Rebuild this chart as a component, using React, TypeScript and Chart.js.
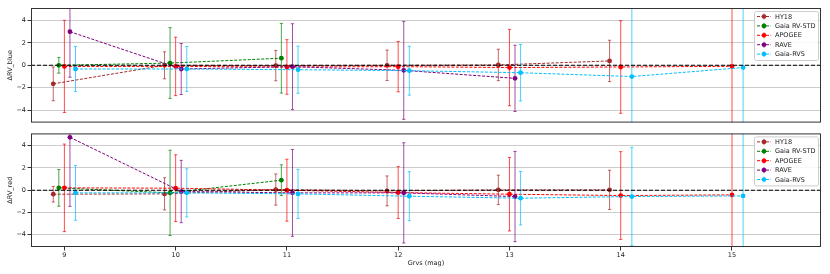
import { useEffect, useRef } from "react";
import { Chart, registerables } from "chart.js";
Chart.register(...registerables);

// ---- data ----
const bins = [9, 10, 11, 12, 13, 14, 15];
const xTicks = [9, 10, 11, 12, 13, 14, 15];
const yTicks = [-4, -2, 0, 2, 4];
const seriesNames = ["HY18", "Gaia RV-STD", "APOGEE", "RAVE", "Gaia-RVS"];
const seriesOffsets = [-0.1, -0.05, 0, 0.05, 0.1];
const seriesColors = ["#a52a2a", "#008000", "#ff0000", "#800080", "#00bfff"];

// ΔRV_blue
const hy18Blue = [-1.65, 0.0, -0.03, 0.0, 0.03, 0.39, null];
const hy18BlueErr = [1.5, 1.2, 1.35, 1.35, 1.4, 1.84, null];
const rvstdBlue = [0.0, 0.2, 0.63, null, null, null, null];
const rvstdBlueErr = [0.7, 3.15, 3.1, null, null, null, null];
const apogeeBlue = [-0.1, -0.1, -0.15, -0.12, -0.2, -0.15, -0.09];
const apogeeBlueErr = [4.1, 2.6, 2.43, 2.24, 3.4, 4.12, 9.0];
const raveBlue = [2.99, -0.33, -0.12, -0.45, -1.16, null, null];
const raveBlueErr = [4.05, 2.27, 3.82, 4.36, 2.95, null, null];
const rvsBlue = [-0.33, -0.33, -0.39, -0.48, -0.66, -1.0, -0.2];
const rvsBlueErr = [2.0, 2.0, 2.1, 2.18, 2.52, 7.0, 9.0];

// ΔRV_red
const hy18Red = [-0.36, -0.33, 0.06, -0.06, 0.03, 0.03, null];
const hy18RedErr = [0.7, 1.44, 1.4, 1.34, 1.32, 1.76, null];
const rvstdRed = [0.21, -0.24, 0.9, null, null, null, null];
const rvstdRedErr = [1.65, 3.83, 1.38, null, null, null, null];
const apogeeRed = [0.21, 0.18, 0.0, -0.21, -0.36, -0.48, -0.42];
const apogeeRedErr = [3.93, 3.0, 2.78, 2.33, 3.3, 3.94, 9.0];
const raveRed = [4.75, -0.12, -0.24, -0.24, -0.57, null, null];
const raveRedErr = [6.2, 2.8, 3.9, 4.5, 4.05, null, null];
const rvsRed = [-0.24, -0.24, -0.33, -0.54, -0.72, -0.57, -0.51];
const rvsRedErr = [2.46, 2.16, 2.2, 2.2, 2.4, 4.42, 9.0];

const blueValues = [hy18Blue, rvstdBlue, apogeeBlue, raveBlue, rvsBlue];
const blueErrors = [hy18BlueErr, rvstdBlueErr, apogeeBlueErr, raveBlueErr, rvsBlueErr];
const redValues = [hy18Red, rvstdRed, apogeeRed, raveRed, rvsRed];
const redErrors = [hy18RedErr, rvstdRedErr, apogeeRedErr, raveRedErr, rvsRedErr];

const FONT = "'DejaVu Sans', sans-serif";
const FS = 6.5;

function rgba(hex: string, a: number) {
  const n = parseInt(hex.slice(1), 16);
  return `rgba(${(n >> 16) & 255},${(n >> 8) & 255},${n & 255},${a})`;
}

const errorBarPlugin = {
  id: "errorBars",
  beforeDatasetDraw(chart: any, args: any) {
    const ds = chart.data.datasets[args.index];
    const meta = args.meta;
    const ys = chart.scales.y;
    const ca = chart.chartArea;
    const ctx = chart.ctx;
    ctx.save();
    ctx.beginPath();
    ctx.rect(ca.left, ca.top, ca.right - ca.left, ca.bottom - ca.top);
    ctx.clip();
    ctx.strokeStyle = rgba(ds.baseColor, 0.7);
    ctx.lineWidth = 1;
    ds.data.forEach((p: any, i: number) => {
      const el = meta.data[i];
      if (!el) return;
      const x = el.x;
      const y1 = ys.getPixelForValue(p.y + p.e);
      const y2 = ys.getPixelForValue(p.y - p.e);
      ctx.beginPath();
      ctx.moveTo(x, y1);
      ctx.lineTo(x, y2);
      ctx.moveTo(x - 1.6, y1);
      ctx.lineTo(x + 1.6, y1);
      ctx.moveTo(x - 1.6, y2);
      ctx.lineTo(x + 1.6, y2);
      ctx.stroke();
    });
    ctx.restore();
  },
  afterDatasetsDraw(chart: any) {
    const ctx = chart.ctx;
    const ca = chart.chartArea;
    const ys = chart.scales.y;
    // zero line
    const y0 = ys.getPixelForValue(0);
    ctx.save();
    ctx.strokeStyle = "#000";
    ctx.lineWidth = 1.1;
    ctx.setLineDash([4, 2]);
    ctx.beginPath();
    ctx.moveTo(ca.left, y0);
    ctx.lineTo(ca.right, y0);
    ctx.stroke();
    ctx.setLineDash([]);
    // frame
    ctx.strokeStyle = "#333";
    ctx.lineWidth = 1;
    ctx.strokeRect(ca.left + 0.5, ca.top + 0.5, ca.right - ca.left - 1, ca.bottom - ca.top - 1);
    // legend
    const bw = 64;
    const bh = 49;
    const bx = ca.right - 3 - bw;
    const by = ca.top + 3;
    ctx.fillStyle = "rgba(255,255,255,0.85)";
    ctx.strokeStyle = "#cccccc";
    ctx.lineWidth = 1;
    ctx.beginPath();
    (ctx as any).roundRect(bx + 0.5, by + 0.5, bw, bh, 2);
    ctx.fill();
    ctx.stroke();
    ctx.font = `${FS}px ${FONT}`;
    ctx.textBaseline = "middle";
    ctx.textAlign = "left";
    seriesNames.forEach((name, i) => {
      const cy = by + 5.5 + i * 9.4;
      const c = seriesColors[i];
      ctx.strokeStyle = c;
      ctx.lineWidth = 1;
      ctx.setLineDash([3, 1.5]);
      ctx.beginPath();
      ctx.moveTo(bx + 3, cy);
      ctx.lineTo(bx + 17, cy);
      ctx.stroke();
      ctx.setLineDash([]);
      ctx.strokeStyle = rgba(c, 0.7);
      ctx.beginPath();
      ctx.moveTo(bx + 10, cy - 3);
      ctx.lineTo(bx + 10, cy + 3);
      ctx.stroke();
      ctx.fillStyle = c;
      ctx.beginPath();
      ctx.arc(bx + 10, cy, 2.3, 0, Math.PI * 2);
      ctx.fill();
      ctx.fillStyle = "#222";
      ctx.fillText(name, bx + 21, cy + 0.5);
    });
    ctx.restore();
  },
};

function buildDatasets(values: (number | null)[][], errors: (number | null)[][]) {
  return values.map((vals, s) => {
    const data: any[] = [];
    vals.forEach((v, i) => {
      if (v === null || v === undefined) return;
      data.push({ x: bins[i] + seriesOffsets[s], y: v, e: errors[s][i] ?? 0 });
    });
    return {
      label: seriesNames[s],
      data,
      baseColor: seriesColors[s],
      borderColor: seriesColors[s],
      backgroundColor: seriesColors[s],
      borderWidth: 1,
      borderDash: [3, 1.5],
      pointRadius: 2.4,
      pointBorderWidth: 0,
      pointBackgroundColor: seriesColors[s],
      showLine: true,
      tension: 0,
      order: -s,
    };
  });
}

function makeChart(canvas: HTMLCanvasElement, values: any, errors: any, title: string, bottom: boolean) {
  return new Chart(canvas, {
    type: "scatter",
    data: { datasets: buildDatasets(values, errors) as any },
    plugins: [errorBarPlugin as any],
    options: {
      animation: false,
      responsive: false,
      events: [],
      layout: { padding: bottom ? { top: 4, right: 9, bottom: 0, left: 0 } : { top: 8, right: 9, bottom: 5, left: 0 } },
      plugins: { legend: { display: false }, tooltip: { enabled: false } },
      scales: {
        x: {
          type: "linear",
          min: 8.7,
          max: 15.8,
          display: bottom,
          afterBuildTicks: (sc: any) => {
            sc.ticks = xTicks.map((v) => ({ value: v }));
          },
          afterFit: (sc: any) => {
            sc.height = bottom ? 27 : 0;
          },
          grid: { display: true, drawOnChartArea: false, drawTicks: true, tickLength: 3.5, tickColor: "#333" },
          border: { display: false },
          ticks: { font: { family: FONT, size: FS }, color: "#222", padding: 0.5, maxRotation: 0 },
          title: { display: true, text: "Grvs (mag)", font: { family: FONT, size: FS }, color: "#222", padding: { top: 7, bottom: 7 } },
        },
        y: {
          type: "linear",
          min: -5.1,
          max: 5.1,
          afterBuildTicks: (sc: any) => {
            sc.ticks = yTicks.map((v) => ({ value: v }));
          },
          afterFit: (sc: any) => {
            sc.width = 31;
          },
          grid: { color: "#cccccc", lineWidth: 1, drawTicks: true, tickLength: 3.5, tickColor: "#333" },
          border: { display: false },
          ticks: {
            font: { family: FONT, size: FS },
            color: "#222",
            padding: 1.5,
            callback: (v: any) => String(v).replace("-", "\u2212"),
          },
          title: { display: true, text: title, font: { family: FONT, size: FS }, color: "#222", padding: { top: 6, bottom: 6 } },
        },
      },
    } as any,
  });
}

export default function App() {
  const topRef = useRef<HTMLCanvasElement>(null);
  const botRef = useRef<HTMLCanvasElement>(null);
  useEffect(() => {
    document.body.style.margin = "0";
    const c1 = makeChart(topRef.current!, blueValues, blueErrors, "ΔRV_blue", false);
    const c2 = makeChart(botRef.current!, redValues, redErrors, "ΔRV_red", true);
    return () => {
      c1.destroy();
      c2.destroy();
    };
  }, []);
  return (
    <div style={{ position: "relative", width: 830, height: 274, background: "#fff" }}>
      <canvas ref={topRef} width={830} height={128} style={{ position: "absolute", left: 0, top: 0 }} />
      <canvas ref={botRef} width={830} height={146} style={{ position: "absolute", left: 0, top: 128 }} />
    </div>
  );
}
